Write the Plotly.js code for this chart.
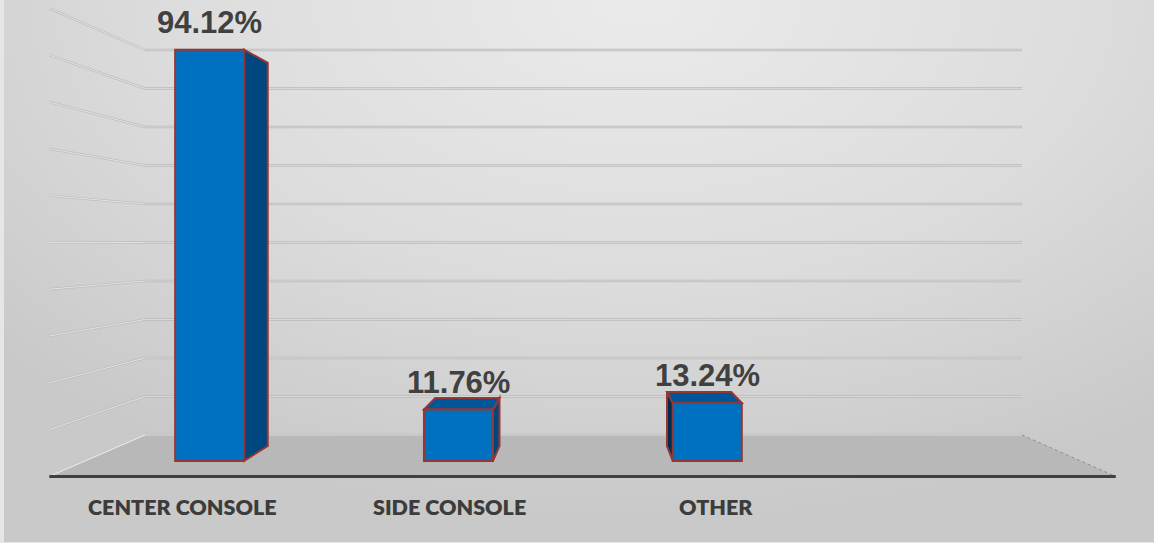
<!DOCTYPE html>
<html>
<head>
<meta charset="utf-8">
<script src="https://cdn.plot.ly/plotly-3.0.1.min.js"></script>
<style>
  html, body { margin: 0; padding: 0; background: #e6e6e6; }
  #wrap { position: relative; width: 1154px; height: 543px; overflow: hidden; }
  #bg { position: absolute; left: 4px; top: 0; width: 1150px; height: 542px;
        background: radial-gradient(ellipse 75% 95% at 55% 0%, #ebebeb 0%, #dcdcdc 55%, #c9c9c9 100%); }
  #chart { position: absolute; left: 0; top: 0; width: 1154px; height: 543px; }
</style>
</head>
<body>
<div id="wrap"><div id="bg"></div><div id="chart"></div></div>
<script>
// ---- data ----
const categories = ['CENTER CONSOLE', 'SIDE CONSOLE', 'OTHER'];
const values = [94.12, 11.76, 13.24];
const gridTicks = [0, 10, 20, 30, 40, 50, 60, 70, 80, 90, 100];

// ---- 3D perspective model (layout only) ----
const W = 1154, H = 543;
const VP = { x: 588, y: 243 };
const BACK = { x0: 145, slot: 219.25, y0: 435, perPct: 3.85 };
const NSLOTS = 4;
const S_WALL = 1, S_FLOOR = 1.216, S_BARBACK = 1.057, S_BARFRONT = 1.135;
const BARW = 0.2773;

function proj(u, v, s) {
  const xb = BACK.x0 + BACK.slot * (u + 0.5);
  const yb = BACK.y0 - BACK.perPct * v;
  return { X: VP.x + (xb - VP.x) * s, Y: VP.y + (yb - VP.y) * s };
}
const A = proj(0, 0, S_BARFRONT).X;
const B = BACK.slot * S_BARFRONT;
const Y0F = proj(0, 0, S_BARFRONT).Y;
const K = BACK.perPct * S_BARFRONT;
function toData(p) { return [(p.X - A) / B, (Y0F - p.Y) / K]; }
function pathOf(pts, close) {
  const d = pts.map(p => { const q = toData(p); return q[0] + ',' + q[1]; });
  return 'M' + d.join(' L') + (close ? ' Z' : '');
}
const uL = -0.5, uR = NSLOTS - 0.5;

const shapes = [];
// floor
shapes.push({ type: 'path', layer: 'below', xref: 'x', yref: 'y',
  path: pathOf([proj(uL, 0, S_WALL), proj(uR, 0, S_WALL), proj(uR, 0, S_FLOOR), proj(uL, 0, S_FLOOR)], true),
  fillcolor: '#b8b8b8', line: { width: 0 } });
shapes.push({ type: 'path', layer: 'below', xref: 'x', yref: 'y',
  path: pathOf([proj(uL, 0, S_WALL), proj(uL, 0, S_FLOOR)], false),
  line: { color: '#ececec', width: 1 } });
shapes.push({ type: 'path', layer: 'below', xref: 'x', yref: 'y',
  path: pathOf([proj(uR, 0, S_WALL), proj(uR, 0, S_FLOOR)], false),
  line: { color: '#8e8e8e', width: 1, dash: 'dot' } });
// gridlines (back wall + left wall)
gridTicks.forEach(v => {
  const back = pathOf([proj(uL, v, S_WALL), proj(uR, v, S_WALL)], false);
  shapes.push({ type: 'path', layer: 'below', xref: 'x', yref: 'y', path: back, line: { color: '#bababa', width: 2.6 } });
  shapes.push({ type: 'path', layer: 'below', xref: 'x', yref: 'y', path: back, line: { color: '#e0e0e0', width: 0.8 } });
  if (v > 0) {
    const side = pathOf([proj(uL, v, S_WALL), proj(uL, v, S_FLOOR)], false);
    shapes.push({ type: 'path', layer: 'below', xref: 'x', yref: 'y', path: side, line: { color: '#bdbdbd', width: 2.4 } });
    shapes.push({ type: 'path', layer: 'below', xref: 'x', yref: 'y', path: side, line: { color: '#ececec', width: 0.8 } });
  }
});
// front axis line
shapes.push({ type: 'path', layer: 'below', xref: 'x', yref: 'y',
  path: pathOf([proj(uL, 0, S_FLOOR), proj(uR, 0, S_FLOOR)], false),
  line: { color: '#404040', width: 3 } });

// bar side / top faces
const EDGE = '#953735';
values.forEach((v, i) => {
  const l = i - BARW / 2, r = i + BARW / 2;
  const rightX = BACK.x0 + BACK.slot * (r + 0.5);
  const leftX = BACK.x0 + BACK.slot * (l + 0.5);
  if (rightX < VP.x) {
    shapes.push({ type: 'path', layer: 'below', xref: 'x', yref: 'y',
      path: pathOf([proj(r, 0, S_BARFRONT), proj(r, v, S_BARFRONT), proj(r, v, S_BARBACK), proj(r, 0, S_BARBACK)], true),
      fillcolor: '#00467f', line: { color: EDGE, width: 2 } });
  }
  if (leftX > VP.x) {
    shapes.push({ type: 'path', layer: 'below', xref: 'x', yref: 'y',
      path: pathOf([proj(l, 0, S_BARFRONT), proj(l, v, S_BARFRONT), proj(l, v, S_BARBACK), proj(l, 0, S_BARBACK)], true),
      fillcolor: '#002b4c', line: { color: EDGE, width: 2 } });
  }
  const topY = BACK.y0 - BACK.perPct * v;
  if (topY > VP.y) {
    shapes.push({ type: 'path', layer: 'below', xref: 'x', yref: 'y',
      path: pathOf([proj(l, v, S_BARFRONT), proj(r, v, S_BARFRONT), proj(r, v, S_BARBACK), proj(l, v, S_BARBACK)], true),
      fillcolor: '#00569a', line: { color: EDGE, width: 2 } });
  }
});

const annotations = [];
values.forEach((v, i) => {
  annotations.push({ x: i, y: v, xref: 'x', yref: 'y', text: v.toFixed(2) + '%',
    showarrow: false, xanchor: 'center', yanchor: 'bottom', yshift: 8,
    font: { family: 'Liberation Sans, Arial, sans-serif', size: 31, color: '#404040', weight: 700 } });
});
categories.forEach((c, i) => {
  const d = toData(proj(i, 0, S_FLOOR));
  annotations.push({ x: d[0], y: d[1], xref: 'x', yref: 'y', text: c,
    showarrow: false, xanchor: 'center', yanchor: 'middle', yshift: -31,
    font: { family: 'Lato, Open Sans, sans-serif', size: 21.5, color: '#3c3c3c', weight: 800 } });
});

const trace = {
  type: 'bar', x: categories.map((c, i) => i), y: values, width: BARW,
  marker: { color: '#0070c0', line: { color: EDGE, width: 2 } },
  hoverinfo: 'skip'
};

const layout = {
  width: W, height: H,
  margin: { l: 0, r: 0, t: 0, b: 0, pad: 0 },
  paper_bgcolor: 'rgba(0,0,0,0)', plot_bgcolor: 'rgba(0,0,0,0)',
  showlegend: false,
  xaxis: { type: 'linear', range: [(0 - A) / B, (W - A) / B], visible: false, fixedrange: true },
  yaxis: { type: 'linear', range: [(Y0F - H) / K, Y0F / K], visible: false, fixedrange: true },
  shapes: shapes,
  annotations: annotations
};

Plotly.newPlot('chart', [trace], layout, { staticPlot: true, displayModeBar: false });
</script>
</body>
</html>
